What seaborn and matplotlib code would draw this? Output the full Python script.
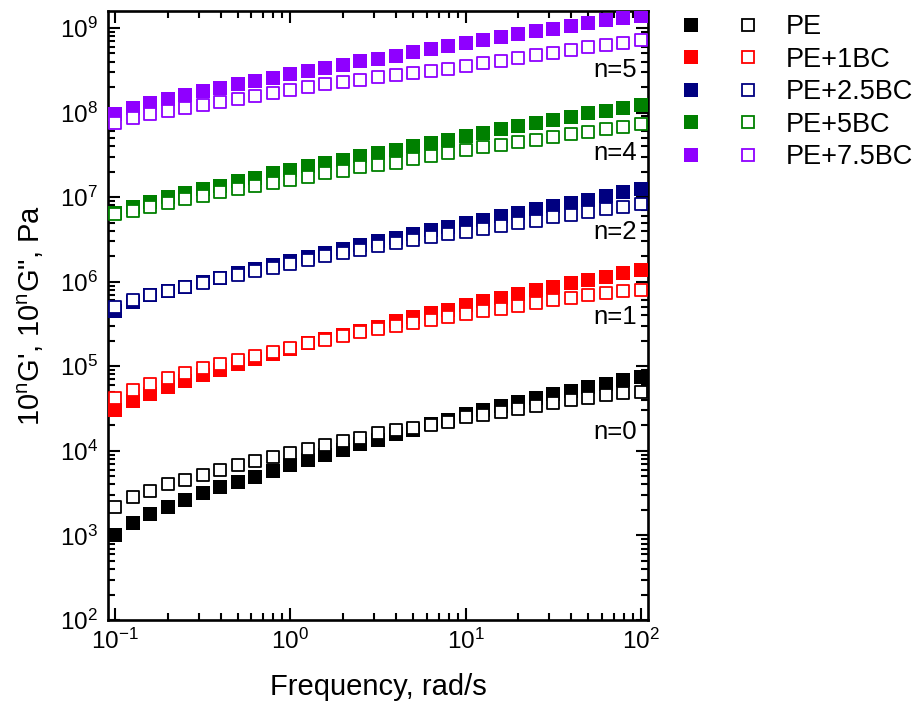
import numpy as np
import pandas as pd
import matplotlib
matplotlib.use("Agg")
import matplotlib.pyplot as plt
from matplotlib.lines import Line2D
from matplotlib.legend_handler import HandlerTuple
import seaborn as sns

# ---------------- data ----------------
freq = np.logspace(-1, 2, 31)  # rad/s, 10 points per decade

samples = ["PE", "PE+1BC", "PE+2.5BC", "PE+5BC", "PE+7.5BC"]
shift_n = [0, 1, 2, 4, 5]
colors = ["#000000", "#FF0000", "#000080", "#008000", "#8F00FF"]

# storage modulus G' (Pa), unshifted
gp_pe = [1010, 1410, 1780, 2190, 2630, 3160, 3720, 4320, 4900, 5820, 6760, 7760, 8910,
         10200, 12000, 13500, 15800, 17800, 20900, 23400, 27200, 30200, 33900, 38000,
         41700, 46800, 51300, 57500, 61700, 69200, 74100]
gp_1bc = [3020, 3890, 4680, 5620, 6760, 7940, 9120, 10700, 12200, 13800, 16200, 18600,
          20900, 23400, 26300, 29500, 33900, 38000, 42700, 46800, 52500, 58900, 64600,
          72400, 79400, 87100, 95500, 105000, 115000, 126000, 138000]
gp_25bc = [4520, 5820, 6920, 7760, 8710, 9890, 11200, 12600, 14000, 15700, 17600, 19500,
           22100, 24300, 26900, 30200, 33100, 36300, 40700, 44700, 49000, 53700, 60300,
           65300, 71600, 78500, 85100, 93300, 102000, 114000, 124000]
gp_5bc = [646, 767, 871, 1000, 1110, 1230, 1360, 1550, 1700, 1910, 2090, 2320, 2540, 2750,
          3020, 3310, 3630, 3980, 4370, 4790, 5250, 5750, 6310, 6920, 7590, 8130, 8910,
          9770, 10500, 11400, 12300]
gp_75bc = [955, 1140, 1300, 1450, 1600, 1780, 1970, 2160, 2370, 2570, 2820, 3090, 3350,
           3670, 4030, 4320, 4680, 5250, 5690, 6170, 6610, 7160, 7760, 8410, 9120, 9770,
           10500, 11500, 12300, 13200, 13800]

# loss modulus G'' (Pa), unshifted
gpp_pe = [2190, 2820, 3390, 4070, 4570, 5130, 5890, 6760, 7590, 8510, 9550, 10500, 11700,
          13200, 14300, 16200, 17600, 18600, 20000, 22100, 25100, 26300, 28800, 31600,
          33900, 37200, 39800, 42700, 45700, 47900, 49000]
gpp_1bc = [4270, 5250, 6170, 7240, 8320, 9440, 10700, 11700, 13200, 14800, 16600, 18600,
           20400, 22900, 25100, 27500, 29900, 32400, 35500, 38500, 41700, 44700, 47900,
           51900, 56200, 60300, 63800, 69200, 73300, 77600, 80400]
gpp_25bc = [5010, 6030, 6920, 7760, 8710, 9770, 11000, 12000, 13200, 14600, 16200, 17800,
            20000, 21600, 24000, 26300, 28800, 30900, 33900, 36300, 38500, 42200, 45700,
            49000, 52500, 57500, 61700, 66100, 72400, 76700, 83200]
gpp_5bc = [631, 692, 767, 851, 944, 1040, 1140, 1260, 1350, 1480, 1580, 1740, 1910, 2040,
           2240, 2400, 2510, 2820, 3090, 3310, 3630, 3890, 4120, 4420, 4790, 5130, 5500,
           5890, 6310, 6760, 7240]
gpp_75bc = [759, 851, 955, 1050, 1140, 1240, 1330, 1450, 1580, 1720, 1840, 2020, 2160, 2290,
            2450, 2660, 2750, 2950, 3090, 3310, 3550, 3800, 4070, 4420, 4790, 5010, 5430,
            5890, 6240, 6610, 7160]

gp_all = [gp_pe, gp_1bc, gp_25bc, gp_5bc, gp_75bc]
gpp_all = [gpp_pe, gpp_1bc, gpp_25bc, gpp_5bc, gpp_75bc]

shift_labels = ["n=0", "n=1", "n=2", "n=4", "n=5"]
shift_label_y = [1.66e4, 3.8e5, 3.9e6, 3.3e7, 3.2e8]

x_major_ticks = [0.1, 1, 10, 100]
y_major_ticks = [1e2, 1e3, 1e4, 1e5, 1e6, 1e7, 1e8, 1e9]

# ---------------- style ----------------
sns.set_style("ticks")
plt.rcParams["font.family"] = ["Liberation Sans", "DejaVu Sans"]
plt.rcParams["mathtext.fontset"] = "custom"
plt.rcParams["mathtext.rm"] = "Liberation Sans"
plt.rcParams["mathtext.it"] = "Liberation Sans:italic"
plt.rcParams["mathtext.bf"] = "Liberation Sans:bold"
plt.rcParams["mathtext.default"] = "regular"
for key in ["text.color", "axes.labelcolor", "xtick.color", "ytick.color",
            "xtick.labelcolor", "ytick.labelcolor", "axes.edgecolor"]:
    plt.rcParams[key] = "black"

fig = plt.figure(figsize=(9.17, 7.09), dpi=100)
ax = fig.add_axes([108 / 917, 89 / 709, 540 / 917, 609 / 709])

s_filled = 92
s_open = 66
lw_open = 1.3

for name, n, col, gp in zip(samples, shift_n, colors, gp_all):
    sns.scatterplot(x=freq, y=np.array(gp) * 10.0 ** n, marker="s", s=s_filled,
                    color=col, edgecolor=col, linewidth=0, ax=ax, zorder=3)
for name, n, col, gpp in zip(samples, shift_n, colors, gpp_all):
    sns.scatterplot(x=freq, y=np.array(gpp) * 10.0 ** n, marker="s", s=s_open,
                    color="white", edgecolor=col, linewidth=lw_open, ax=ax, zorder=4)

ax.set_xscale("log")
ax.set_yscale("log")
ax.set_xlim(10 ** -1.04, 10 ** 2.04)
ax.set_ylim(1e2, 10 ** 9.2)

for lab, yv in zip(shift_labels, shift_label_y):
    ax.text(95, yv, lab, ha="right", va="center", fontsize=18.5, color="black", zorder=5)

ax.set_xlabel("Frequency, rad/s", fontsize=21, labelpad=14)
ax.set_ylabel("10$^{n}$G', 10$^{n}$G\", Pa", fontsize=21, labelpad=10)

for sp in ax.spines.values():
    sp.set_linewidth(1.9)
    sp.set_color("black")
ax.tick_params(which="both", direction="in", top=True, right=True, color="black",
               labelcolor="black")
ax.tick_params(which="major", length=8.5, width=1.5, labelsize=17.5)
ax.tick_params(which="minor", length=4.7, width=1.5)
ax.tick_params(axis="x", which="major", pad=6)
ax.tick_params(axis="y", which="major", pad=7)
ax.xaxis.set_major_locator(matplotlib.ticker.FixedLocator(x_major_ticks))
ax.yaxis.set_major_locator(matplotlib.ticker.FixedLocator(y_major_ticks))
ax.xaxis.set_major_formatter(matplotlib.ticker.LogFormatterSciNotation())
ax.yaxis.set_major_formatter(matplotlib.ticker.LogFormatterSciNotation())
ax.xaxis.set_minor_locator(matplotlib.ticker.LogLocator(base=10, subs=np.arange(2, 10), numticks=20))
ax.yaxis.set_minor_locator(matplotlib.ticker.LogLocator(base=10, subs=np.arange(2, 10), numticks=20))
ax.xaxis.set_minor_formatter(matplotlib.ticker.NullFormatter())
ax.yaxis.set_minor_formatter(matplotlib.ticker.NullFormatter())

# legend: filled (G') and open (G'') markers side by side
handles = []
for col in colors:
    h_f = Line2D([], [], marker="s", ls="none", ms=9.6, mfc=col, mec=col, mew=0)
    h_o = Line2D([], [], marker="s", ls="none", ms=8.1, mfc="white", mec=col, mew=lw_open)
    handles.append((h_f, h_o))
fig.legend(handles, samples, handler_map={tuple: HandlerTuple(ndivide=None, pad=0)},
           loc="upper left", bbox_to_anchor=(663 / 917, 0.980), frameon=False,
           fontsize=19.5, numpoints=1, handlelength=4.2, handletextpad=0.35,
           borderpad=0, borderaxespad=0, labelspacing=0.24)

fig.savefig("out.png", dpi=100)
